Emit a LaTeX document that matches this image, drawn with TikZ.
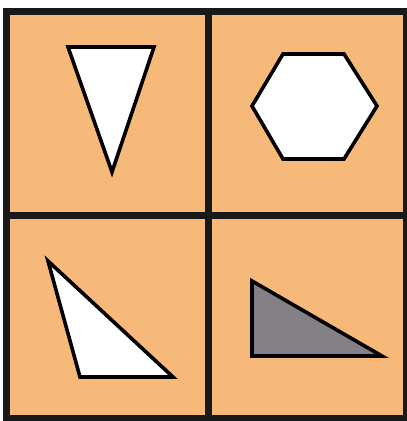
\documentclass[tikz,border=0pt]{standalone}
\usepackage{xcolor}
\usepackage{tikz}
\definecolor{paneorange}{RGB}{246,185,122}
\definecolor{shadegray}{RGB}{132,128,134}
\tikzset{
  frame/.style={draw=black!90,line width=7pt,line cap=rect},
  pane/.style={fill=paneorange},
  figure/.style={draw=black,line width=3.6pt,line join=miter,fill=white},
  darkfig/.style={figure,fill=shadegray}
}
\begin{document}
\begin{tikzpicture}[x=1pt,y=-1pt]
\useasboundingbox (0,0) rectangle (407,421);
% panes
\fill[pane] (6.5,11) rectangle (406,418);
% figures
\draw[figure] (68,47) -- (154,47) -- (112,172) -- cycle;
\draw[figure] (252,106) -- (283,54) -- (344,54) -- (377,106) -- (344,159) -- (283,159) -- cycle;
\draw[figure] (48,261) -- (173,377) -- (80,377) -- cycle;
\draw[darkfig] (252,281) -- (382,356) -- (252,356) -- cycle;
% grid lines
\draw[frame] (6.5,11) rectangle (406,418);
\draw[frame] (208,11) -- (208,418);
\draw[frame] (6.5,215.5) -- (406,215.5);
\end{tikzpicture}
\end{document}
